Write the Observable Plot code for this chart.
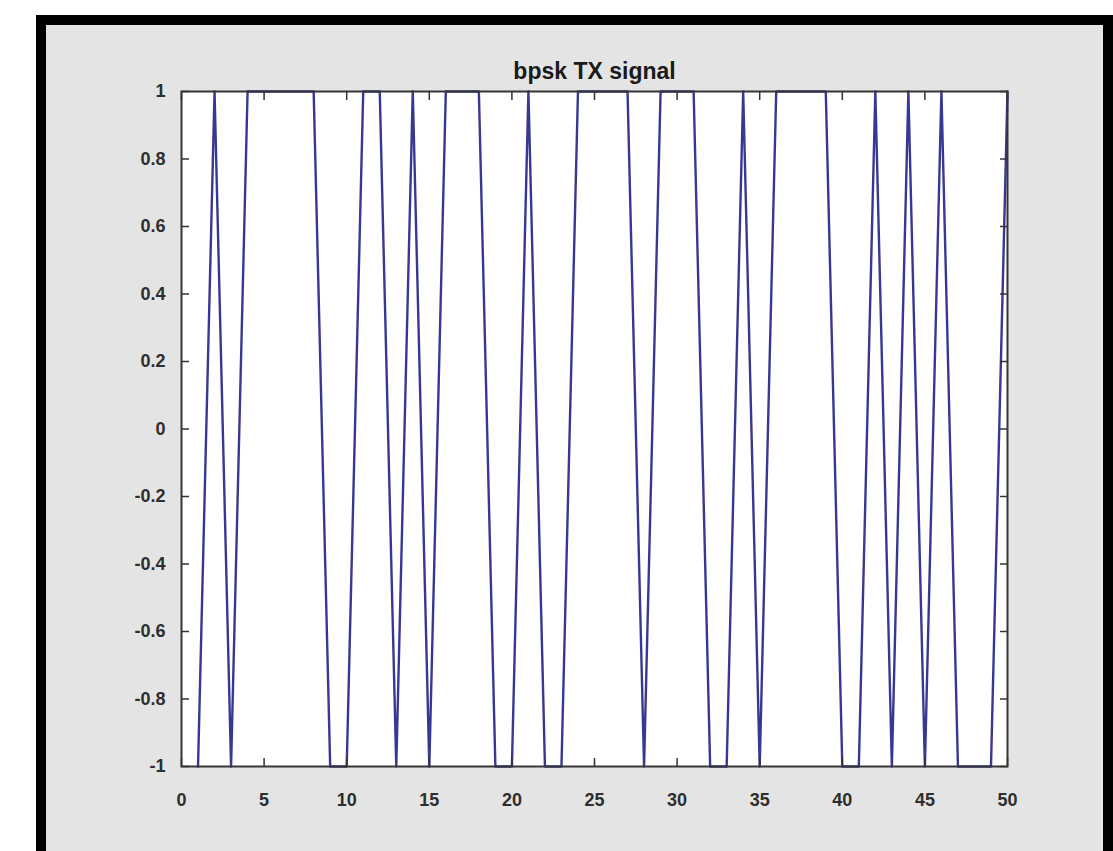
<!DOCTYPE html>
<html>
<head>
<meta charset="utf-8">
<script src="https://cdn.jsdelivr.net/npm/d3@7"></script>
<script src="https://cdn.jsdelivr.net/npm/@observablehq/plot@0.6"></script>
<style>
  html, body { margin: 0; padding: 0; background: white; overflow: hidden; }
  #frame { position: absolute; left: 36px; top: 15px; width: 1057px; height: 860px;
           border: 10px solid #000; border-bottom: none; background: #e4e4e4; }
  #chart { position: absolute; left: 0; top: 0; }
</style>
</head>
<body>
<div id="frame"></div>
<div id="chart"></div>
<script>
const titleText = "bpsk TX signal";
const sampleIndex = d3.range(1, 51);
const symbols = [
  -1, 1, -1, 1, 1, 1, 1, 1, -1, -1,
   1, 1, -1, 1, -1, 1, 1, 1, -1, -1,
   1, -1, -1, 1, 1, 1, 1, -1, 1, 1,
   1, -1, -1, 1, -1, 1, 1, 1, 1, -1,
  -1, 1, -1, 1, -1, 1, -1, -1, -1, 1
];
const xTicks = [0, 5, 10, 15, 20, 25, 30, 35, 40, 45, 50];
const yTicks = [-1, -0.8, -0.6, -0.4, -0.2, 0, 0.2, 0.4, 0.6, 0.8, 1];
const yTickLabels = ["-1", "-0.8", "-0.6", "-0.4", "-0.2", "0", "0.2", "0.4", "0.6", "0.8", "1"];

const data = sampleIndex.map((x, i) => ({x, y: symbols[i]}));
const yLabel = v => yTickLabels[yTicks.findIndex(t => Math.abs(t - v) < 1e-9)];

const chart = Plot.plot({
  width: 1113,
  height: 851,
  marginLeft: 181,
  marginRight: 106,
  marginTop: 91,
  marginBottom: 85,
  style: {background: "transparent", fontFamily: "Liberation Sans, Arial, sans-serif", fontSize: "18px", fontWeight: "bold", color: "#2e2e2e"},
  x: {domain: [0, 50]},
  y: {domain: [-1, 1]},
  marks: [
    Plot.frame({fill: "white", stroke: null}),
    Plot.line(data, {x: "x", y: "y", stroke: "#383894", strokeWidth: 2.4}),
    Plot.axisX(xTicks, {anchor: "bottom", tickSize: -8, tickPadding: 35, label: null, tickFormat: d => String(d), stroke: "#333", strokeWidth: 1.5}),
    Plot.axisX(xTicks, {anchor: "top", tickSize: -8, label: null, tickFormat: () => "", stroke: "#333", strokeWidth: 1.5}),
    Plot.axisY(yTicks, {anchor: "left", tickSize: -8, tickPadding: 24, label: null, tickFormat: yLabel, stroke: "#333", strokeWidth: 1.5}),
    Plot.axisY(yTicks, {anchor: "right", tickSize: -8, label: null, tickFormat: () => "", stroke: "#333", strokeWidth: 1.5}),
    Plot.frame({stroke: "#353535", strokeWidth: 2}),
    Plot.text([titleText], {frameAnchor: "top", lineAnchor: "middle", dy: -20, fontWeight: "bold", fontSize: 23, letterSpacing: -0.4, fill: "#1a1a1a"})
  ]
});
document.getElementById("chart").appendChild(chart);
</script>
</body>
</html>
